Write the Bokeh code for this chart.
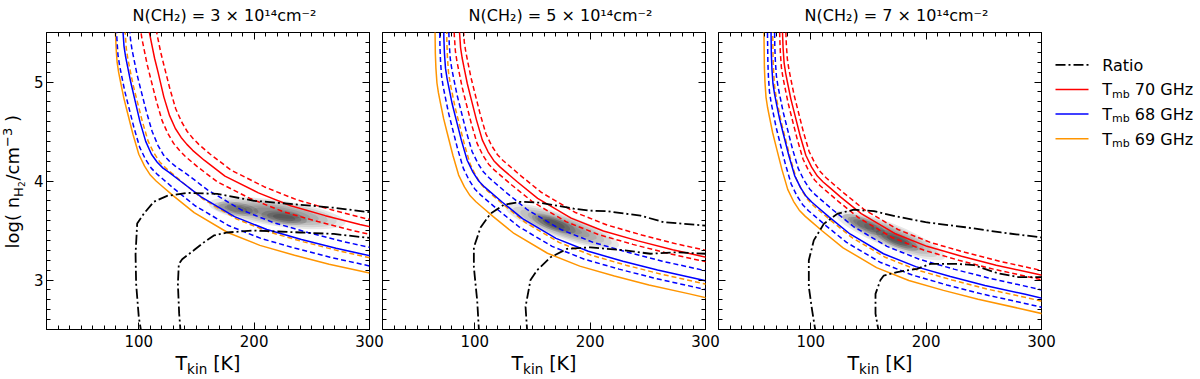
import math
from bokeh.plotting import figure
from bokeh.models import Range1d, LinearAxis, SingleIntervalTicker, Label
from bokeh.layouts import row, column
from bokeh.embed import file_html
from bokeh.resources import INLINE

FONT = "DejaVu Sans"

TITLES = ["N(CH\u2082) = 3 \u00d7 10\u00b9\u2074cm\u207b\u00b2",
          "N(CH\u2082) = 5 \u00d7 10\u00b9\u2074cm\u207b\u00b2",
          "N(CH\u2082) = 7 \u00d7 10\u00b9\u2074cm\u207b\u00b2"]
X_TICK_LABELS = [100, 200, 300]
LEGEND_LABELS = ["Ratio", "70 GHz", "68 GHz", "69 GHz"]

# ---------------- panel 1 : (T_kin [K], log n_H2) ----------------
P1_ORANGE = [(79.0,6.2),(79.8,5.5),(80.3,5.35),(81.2,5.2),(82.5,5.1),(84.2,5.0),(87,4.84),(90,4.70),(95,4.47),(100,4.27),(105,4.15),(110,4.06),(115,4.00),(120,3.95),(130,3.85),(148,3.68),(177,3.48),(205,3.35),(235,3.25),(265,3.16),(300,3.07)]
P1_ORANGE_DASH = [(87,6.335),(87.8,5.635),(88.3,5.485),(89.2,5.335),(90.5,5.235),(92.2,5.135),(95,4.975),(98,4.835),(103,4.605),(108,4.405),(113,4.285),(118,4.195),(123,4.135),(128,4.085),(138,3.985),(156,3.815),(185,3.615),(213,3.485),(243,3.385),(273,3.295),(308,3.205)]
P1_BLUE_LO = [(79.8,6.27),(80.6,5.57),(81.1,5.42),(82.0,5.27),(83.3,5.17),(85.0,5.07),(87.8,4.91),(90.8,4.77),(95.8,4.54),(100.8,4.34),(105.8,4.22),(110.8,4.13),(115.8,4.07),(120.8,4.02),(130.8,3.92),(148.8,3.75),(177.8,3.55),(205.8,3.42),(235.8,3.32),(265.8,3.23),(300.8,3.14)]
P1_BLUE = [(85,6.36),(85.8,5.66),(86.3,5.51),(87.2,5.36),(88.5,5.26),(90.2,5.16),(93,5.0),(96,4.85),(101,4.60),(106,4.40),(111,4.27),(116,4.19),(121,4.13),(126,4.09),(136,4.0),(154,3.84),(183,3.64),(211,3.51),(241,3.41),(271,3.32),(306,3.23)]
P1_BLUE_HI = [(90.6,6.43),(91.4,5.73),(91.9,5.58),(92.8,5.43),(94.1,5.33),(95.8,5.23),(98.6,5.07),(101.6,4.93),(106.6,4.70),(111.6,4.50),(116.6,4.36),(121.6,4.26),(126.6,4.20),(131.6,4.15),(141.6,4.07),(159.6,3.91),(188.6,3.71),(216.6,3.58),(246.6,3.48),(276.6,3.39),(311.6,3.30)]
P1_RED_LO = [(99.2,6.54),(100,5.84),(100.5,5.69),(101.4,5.54),(102.7,5.44),(104.4,5.34),(107.2,5.18),(110.2,5.04),(115.2,4.81),(120.2,4.61),(125.2,4.48),(130.2,4.38),(135.2,4.31),(140.2,4.25),(150.2,4.15),(168.2,3.99),(197.2,3.82),(225.2,3.69),(255.2,3.59),(285.2,3.50),(320.2,3.41)]
P1_RED = [(105.7,6.6),(106.5,5.9),(107.0,5.75),(107.9,5.6),(109.2,5.5),(110.9,5.4),(113.7,5.24),(116.7,5.10),(121.7,4.85),(126.7,4.66),(131.7,4.53),(136.7,4.44),(141.7,4.37),(146.7,4.31),(156.7,4.21),(174.7,4.05),(203.7,3.88),(231.7,3.75),(261.7,3.65),(291.7,3.56),(326.7,3.47)]
P1_RED_HI = [(111,6.66),(111.8,5.96),(112.3,5.81),(113.2,5.66),(114.5,5.56),(116.2,5.46),(119,5.30),(122,5.16),(127,4.93),(132,4.73),(137,4.60),(142,4.50),(147,4.43),(152,4.37),(162,4.27),(180,4.11),(209,3.94),(237,3.81),(267,3.71),(297,3.62),(332,3.53)]
P1_RATIO_A = [(102.5,2.45),(100.0,2.625),(97.7,2.96),(97.2,3.26),(98.6,3.57),(104.4,3.67),(113.0,3.79),(124.6,3.85),(141.9,3.88),(168,3.87),(200,3.80),(240,3.76),(269,3.73),(300,3.685)]
P1_RATIO_B = [(136.4,2.45),(135.0,2.66),(133.9,2.96),(134.7,3.16),(137.6,3.21),(147.7,3.30),(156.4,3.38),(165.1,3.45),(176.6,3.48),(199.7,3.50),(240.2,3.48),(269.1,3.465),(300,3.425)]
P1_BLOB = (220, 3.675)
P1_CORES = [(184, 3.72), (226, 3.63)]

# ---------------- panel 2 ----------------
P2_ORANGE = [(65,5.99),(65.8,5.29),(66.3,5.14),(67.2,4.99),(68.5,4.89),(70.2,4.79),(73,4.63),(76,4.49),(81,4.26),(86,4.06),(91,3.94),(96,3.85),(101,3.79),(106,3.74),(116,3.64),(134,3.47),(163,3.27),(191,3.14),(221,3.04),(251,2.95),(286,2.86),(316,2.78)]
P2_ORANGE_DASH = [(75,6.10),(75.8,5.40),(76.3,5.25),(77.2,5.10),(78.5,5.00),(80.2,4.90),(83,4.74),(86,4.60),(91,4.37),(96,4.17),(101,4.05),(106,3.96),(111,3.90),(116,3.85),(126,3.75),(144,3.58),(173,3.38),(201,3.25),(231,3.15),(261,3.06),(296,2.97),(326,2.89)]
P2_BLUE_LO = [(69,6.06),(69.8,5.36),(70.3,5.21),(71.2,5.06),(72.5,4.96),(74.2,4.86),(77,4.70),(80,4.56),(85,4.33),(90,4.13),(95,4.01),(100,3.92),(105,3.86),(110,3.81),(120,3.71),(138,3.54),(167,3.34),(195,3.21),(225,3.11),(255,3.02),(290,2.93),(320,2.85)]
P2_BLUE = [(72.4,6.14),(73.2,5.44),(73.7,5.29),(74.6,5.14),(75.9,5.04),(77.6,4.94),(80.4,4.78),(83.4,4.64),(88.4,4.41),(93.4,4.21),(98.4,4.09),(103.4,4.00),(108.4,3.94),(113.4,3.89),(123.4,3.79),(141.4,3.62),(170.4,3.42),(198.4,3.29),(228.4,3.19),(258.4,3.10),(293.4,3.01),(323.4,2.93)]
P2_BLUE_HI = [(76.6,6.23),(77.4,5.53),(77.9,5.38),(78.8,5.23),(80.1,5.13),(81.8,5.03),(84.6,4.87),(87.6,4.73),(92.6,4.50),(97.6,4.30),(102.6,4.18),(107.6,4.09),(112.6,4.03),(117.6,3.98),(127.6,3.88),(145.6,3.71),(174.6,3.51),(202.6,3.38),(232.6,3.28),(262.6,3.19),(297.6,3.10),(327.6,3.02)]
P2_RED_LO = [(81,6.31),(81.8,5.61),(82.3,5.46),(83.2,5.31),(84.5,5.21),(86.2,5.11),(89,4.95),(92,4.81),(97,4.58),(102,4.38),(107,4.26),(112,4.17),(117,4.11),(122,4.06),(132,3.96),(150,3.79),(179,3.59),(207,3.46),(237,3.36),(267,3.27),(302,3.18)]
P2_RED = [(85.5,6.345),(86.3,5.645),(86.8,5.495),(87.7,5.345),(89,5.245),(90.7,5.145),(93.5,4.985),(96.5,4.845),(101.5,4.615),(106.5,4.415),(111.5,4.295),(116.5,4.205),(121.5,4.145),(126.5,4.095),(136.5,3.995),(154.5,3.825),(183.5,3.625),(211.5,3.495),(241.5,3.395),(271.5,3.305),(306.5,3.215)]
P2_RED_HI = [(88.7,6.405),(89.5,5.705),(90,5.555),(90.9,5.405),(92.2,5.305),(93.9,5.205),(96.7,5.045),(99.7,4.905),(104.7,4.675),(109.7,4.475),(114.7,4.355),(119.7,4.265),(124.7,4.205),(129.7,4.155),(139.7,4.055),(157.7,3.885),(186.7,3.685),(214.7,3.555),(244.7,3.455),(274.7,3.365),(309.7,3.275)]
P2_RATIO_A = [(103.8,2.45),(102.1,2.79),(99.2,3.13),(99.2,3.33),(105,3.53),(113.6,3.67),(125.2,3.76),(139.6,3.79),(157,3.78),(185.9,3.72),(200.3,3.70),(214.8,3.695),(243.7,3.65),(263.9,3.584),(300,3.55)]
P2_RATIO_B = [(145.6,2.45),(144,2.73),(148.3,3.0),(154.1,3.10),(165.7,3.23),(180.1,3.315),(200.3,3.33),(229.2,3.30),(252.3,3.265),(275,3.28),(300,3.265)]
P2_BLOB = (175.8, 3.543)
P2_CORES = [(168.5, 3.567)]

# ---------------- panel 3 ----------------
P3_ORANGE = [(59,5.845),(59.8,5.145),(60.3,4.995),(61.2,4.845),(62.5,4.745),(64.2,4.645),(67,4.485),(70,4.345),(75,4.115),(80,3.915),(85,3.795),(90,3.705),(95,3.645),(100,3.595),(110,3.495),(128,3.325),(157,3.125),(185,2.995),(215,2.895),(245,2.805),(280,2.715),(310,2.635)]
P3_ORANGE_DASH = [(66.5,5.95),(67.3,5.25),(67.8,5.10),(68.7,4.95),(70,4.85),(71.7,4.75),(74.5,4.59),(77.5,4.45),(82.5,4.22),(87.5,4.02),(92.5,3.90),(97.5,3.81),(102.5,3.75),(107.5,3.70),(117.5,3.60),(135.5,3.43),(164.5,3.23),(192.5,3.10),(222.5,3.00),(252.5,2.91),(287.5,2.82),(317.5,2.74)]
P3_BLUE_LO = [(62,5.90),(62.8,5.20),(63.3,5.05),(64.2,4.90),(65.5,4.80),(67.2,4.70),(70,4.54),(73,4.40),(78,4.17),(83,3.97),(88,3.85),(93,3.76),(98,3.70),(103,3.65),(113,3.55),(131,3.38),(160,3.18),(188,3.05),(218,2.95),(248,2.86),(283,2.77),(313,2.69)]
P3_BLUE = [(65,5.985),(65.8,5.285),(66.3,5.135),(67.2,4.985),(68.5,4.885),(70.2,4.785),(73,4.625),(76,4.485),(81,4.255),(86,4.055),(91,3.935),(96,3.845),(101,3.785),(106,3.735),(116,3.635),(134,3.465),(163,3.265),(191,3.135),(221,3.035),(251,2.945),(286,2.855),(316,2.775)]
P3_BLUE_HI = [(68,6.06),(68.8,5.36),(69.3,5.21),(70.2,5.06),(71.5,4.96),(73.2,4.86),(76,4.70),(79,4.56),(84,4.33),(89,4.13),(94,4.01),(99,3.92),(104,3.86),(109,3.81),(119,3.71),(137,3.54),(166,3.34),(194,3.21),(224,3.11),(254,3.02),(289,2.93),(319,2.85)]
P3_RED_LO = [(72.3,6.15),(73.1,5.45),(73.6,5.30),(74.5,5.15),(75.8,5.05),(77.5,4.95),(80.3,4.79),(83.3,4.65),(88.3,4.42),(93.3,4.22),(98.3,4.10),(103.3,4.01),(108.3,3.95),(113.3,3.90),(123.3,3.80),(141.3,3.63),(170.3,3.43),(198.3,3.30),(228.3,3.20),(258.3,3.11),(293.3,3.02),(323.3,2.94)]
P3_RED = [(74.7,6.19),(75.5,5.49),(76,5.34),(76.9,5.19),(78.2,5.09),(79.9,4.99),(82.7,4.83),(85.7,4.69),(90.7,4.46),(95.7,4.26),(100.7,4.14),(105.7,4.05),(110.7,3.99),(115.7,3.94),(125.7,3.84),(143.7,3.67),(172.7,3.47),(200.7,3.34),(230.7,3.24),(260.7,3.15),(295.7,3.06),(325.7,2.98)]
P3_RED_HI = [(77.5,6.23),(78.3,5.53),(78.8,5.38),(79.7,5.23),(81,5.13),(82.7,5.03),(85.5,4.87),(88.5,4.73),(93.5,4.50),(98.5,4.30),(103.5,4.18),(108.5,4.09),(113.5,4.03),(118.5,3.98),(128.5,3.88),(146.5,3.71),(175.5,3.51),(203.5,3.38),(233.5,3.28),(263.5,3.19),(298.5,3.10),(328.5,3.02)]
P3_RATIO_A = [(104.5,2.45),(101.2,2.69),(98.3,2.93),(98.3,3.20),(102.6,3.40),(111.3,3.567),(122.9,3.668),(137.3,3.71),(154.7,3.695),(175,3.64),(199.5,3.584),(234,3.533),(265,3.48),(300,3.43)]
P3_RATIO_B = [(159.3,2.45),(156.1,2.66),(156.1,2.86),(160.4,3.0),(163.3,3.045),(174.9,3.08),(192.2,3.113),(203.8,3.163),(226.9,3.163),(241.4,3.15),(261.6,3.07),(280,3.03),(300,3.03)]
P3_BLOB = (169, 3.45)
P3_CORES = [(146, 3.56), (175, 3.40)]

RED = "#ff0000"
BLUE = "#0000ff"
ORANGE = "#ff9500"

PANELS = [
    dict(curves=[P1_ORANGE, P1_ORANGE_DASH, P1_BLUE_LO, P1_BLUE, P1_BLUE_HI, P1_RED_LO, P1_RED, P1_RED_HI],
         ratio=[P1_RATIO_A, P1_RATIO_B], blob=P1_BLOB, cores=P1_CORES, blob_shape=(138, 26, -0.14)),
    dict(curves=[P2_ORANGE, P2_ORANGE_DASH, P2_BLUE_LO, P2_BLUE, P2_BLUE_HI, P2_RED_LO, P2_RED, P2_RED_HI],
         ratio=[P2_RATIO_A, P2_RATIO_B], blob=P2_BLOB, cores=P2_CORES, blob_shape=(120, 24, -0.333)),
    dict(curves=[P3_ORANGE, P3_ORANGE_DASH, P3_BLUE_LO, P3_BLUE, P3_BLUE_HI, P3_RED_LO, P3_RED, P3_RED_HI],
         ratio=[P3_RATIO_A, P3_RATIO_B], blob=P3_BLOB, cores=P3_CORES, blob_shape=(118, 24, -0.386)),
]
CURVE_STYLES = [(ORANGE, "solid"), (ORANGE, "5 3"), (BLUE, "5 3"), (BLUE, "solid"), (BLUE, "5 3"),
                (RED, "5 3"), (RED, "solid"), (RED, "5 3")]

# ---------------- layout constants (page pixels) ----------------
XMIN, XMAX, YMIN, YMAX = 20, 300, 2.5, 5.5
FW, FH = 323, 297
PX_PER_X = FW / (XMAX - XMIN)
FRAME_LEFTS = [46, 382, 718]
TOP_H = 24          # title strip
B_TOP, B_BOT = 8, 3
PANEL_H = B_TOP + FH + B_BOT
FRAME_Y0 = TOP_H + B_TOP           # 32
FRAME_Y1 = FRAME_Y0 + FH           # 329
BOT_Y0 = TOP_H + PANEL_H           # 332
TOTAL_W, TOTAL_H = 1200, 379
YL_W = 28
BORDERS = [(18, 6), (7, 6), (7, 2)]
STRIP_EDGES = [0, 420, 760, 1200]
MID = 0.35   # Label anchors sit at the vertical middle of the text box


def style_axis(ax, ticker, labels):
    ax.ticker = ticker
    ax.axis_line_color = None
    ax.major_tick_in = 7
    ax.major_tick_out = 0
    ax.minor_tick_in = 4
    ax.minor_tick_out = 0
    ax.major_tick_line_color = "black"
    ax.minor_tick_line_color = "black"
    ax.major_tick_line_width = 1
    ax.minor_tick_line_width = 1
    ax.major_label_text_font = FONT
    if labels:
        ax.major_label_text_font_size = "15px"
        ax.major_label_text_color = "black"
        ax.major_label_standoff = 3
    else:
        ax.major_label_text_font_size = "0px"
        ax.major_label_text_color = None
        ax.major_label_standoff = 0


def xt():
    return SingleIntervalTicker(interval=100, num_minor_ticks=10)


def yt():
    return SingleIntervalTicker(interval=1, num_minor_ticks=10)


def lab(p, text, x, y, size, **kw):
    p.add_layout(Label(x=x, y=y, text=text, text_font=FONT, text_font_size="%gpx" % size,
                       text_color="black", **kw))


def hlab(p, text, x, baseline, size, **kw):
    # horizontal text positioned by its baseline (page px)
    lab(p, text, x, baseline - MID * size, size, text_baseline="alphabetic", **kw)


def page_fig(w, h, x0, x1, y0, y1, top=0, bottom=0):
    # frame spans the figure minus (top, bottom); y range given in page pixels of the frame
    f = figure(width=w, height=h, x_range=Range1d(x0, x1), y_range=Range1d(y0, y1),
               min_border=0, min_border_left=0, min_border_right=0,
               min_border_top=top, min_border_bottom=bottom,
               output_backend="svg", toolbar_location=None, title=None,
               x_axis_location=None, y_axis_location=None)
    f.xgrid.visible = False
    f.ygrid.visible = False
    f.outline_line_color = None
    f.background_fill_color = "white"
    f.border_fill_color = "white"
    return f


def make_panel(i, panel):
    left, right = BORDERS[i]
    p = figure(frame_width=FW, frame_height=FH, x_range=Range1d(XMIN, XMAX), y_range=Range1d(YMIN, YMAX),
               min_border_left=left, min_border_right=right, min_border_top=B_TOP, min_border_bottom=B_BOT,
               output_backend="svg", toolbar_location=None, title=None)
    p.xgrid.visible = False
    p.ygrid.visible = False
    p.outline_line_color = "black"
    p.outline_line_width = 1
    p.background_fill_color = "white"
    p.border_fill_color = "white"

    style_axis(p.xaxis[0], xt(), False)
    style_axis(p.yaxis[0], yt(), i == 0)
    top = LinearAxis()
    style_axis(top, xt(), False)
    p.add_layout(top, "above")
    rgt = LinearAxis()
    style_axis(rgt, yt(), False)
    p.add_layout(rgt, "right")

    # posterior density (gray blob)
    L, H, ang = panel["blob_shape"]
    cx, cy = panel["blob"]
    for k in range(6):
        s = 1 - k * 0.13
        p.ellipse(x=[cx], y=[cy], width=[L * s], height=[H * s], angle=ang,
                  width_units="screen", height_units="screen",
                  fill_color="black", fill_alpha=0.09, line_color=None)
    for (qx, qy) in panel["cores"]:
        for k in range(3):
            s = 1 - k * 0.25
            p.ellipse(x=[qx], y=[qy], width=[46 * s], height=[13 * s], angle=ang,
                      width_units="screen", height_units="screen",
                      fill_color="black", fill_alpha=0.14, line_color=None)

    for pts, (col, dash) in zip(panel["curves"], CURVE_STYLES):
        p.line([a for a, b in pts], [b for a, b in pts], line_color=col, line_width=1.5, line_dash=dash)
    for pts in panel["ratio"]:
        p.line([a for a, b in pts], [b for a, b in pts], line_color="black", line_width=1.8,
               line_dash="10 3 2 3")
    return p


panels = [make_panel(i, pn) for i, pn in enumerate(PANELS)]

# ---- title strip ----
top_strip = page_fig(TOTAL_W, TOP_H, 0, TOTAL_W, TOP_H, 0)
for i, t in enumerate(TITLES):
    hlab(top_strip, t, FRAME_LEFTS[i] + FW / 2 + 16.5, 20.7, 16, text_align="center")

# ---- y label strip (rotated text, composed of pieces; x = baseline position) ----
yl = page_fig(YL_W, PANEL_H, 0, YL_W, FRAME_Y1, FRAME_Y0, top=B_TOP, bottom=B_BOT)
for t, fs, bx, py in [("log( n", 18, 18.3, 248), ("H", 13, 22.3, 196.4), ("2", 9, 24.3, 186.6),
                      ("/cm", 18, 18.3, 180), ("\u22123", 13, 11.3, 146.5), (")", 18, 18.3, 121.6)]:
    lab(yl, t, bx - MID * fs, py, fs, angle=math.pi / 2, text_align="left", text_baseline="alphabetic")

# ---- legend ----
lg_x0 = YL_W + sum(l + FW + r for l, r in BORDERS)
lg = page_fig(TOTAL_W - lg_x0, PANEL_H, lg_x0, TOTAL_W, FRAME_Y1, FRAME_Y0, top=B_TOP, bottom=B_BOT)
LEG_Y = [64.3, 89.0, 113.5, 138.3]
LEG_COL = ["black", RED, BLUE, ORANGE]
LEG_DASH = ["10 3 2 3", "solid", "solid", "solid"]
for k, (ly, col, dash) in enumerate(zip(LEG_Y, LEG_COL, LEG_DASH)):
    lg.line([1055, 1088], [ly, ly], line_color=col, line_width=1.8 if k == 0 else 1.5, line_dash=dash)
    if k == 0:
        hlab(lg, LEGEND_LABELS[0], 1101.7, ly + 5.8, 16, text_align="left")
    else:
        hlab(lg, "T", 1101.7, ly + 5.8, 16, text_align="left")
        hlab(lg, "mb", 1111.5, ly + 8.8, 11, text_align="left")
        hlab(lg, LEGEND_LABELS[k], 1134.3, ly + 5.8, 16, text_align="left")

# ---- bottom strips: tick labels + x axis titles, placed through a T_kin scale ----
strips = []
xc = (XMIN + XMAX) / 2
for k in range(3):
    a, b = STRIP_EDGES[k], STRIP_EDGES[k + 1]
    L0 = FRAME_LEFTS[k]
    s = page_fig(b - a, TOTAL_H - BOT_Y0, XMIN + (a - L0) / PX_PER_X, XMIN + (b - L0) / PX_PER_X,
                 TOTAL_H, BOT_Y0)
    for t in X_TICK_LABELS:
        hlab(s, str(t), t, 345.5, 15, text_align="center")
    hlab(s, "T", xc, 369, 19, x_offset=-32.5, text_align="left")
    hlab(s, "kin", xc, 373, 13.5, x_offset=-20.9, text_align="left")
    hlab(s, "[K]", xc, 369, 19, x_offset=5.2, text_align="left")
    strips.append(s)

layout = column(top_strip, row(yl, *panels, lg), row(*strips))
open("out.html", "w").write(file_html(layout, INLINE, "Tkin vs n"))
